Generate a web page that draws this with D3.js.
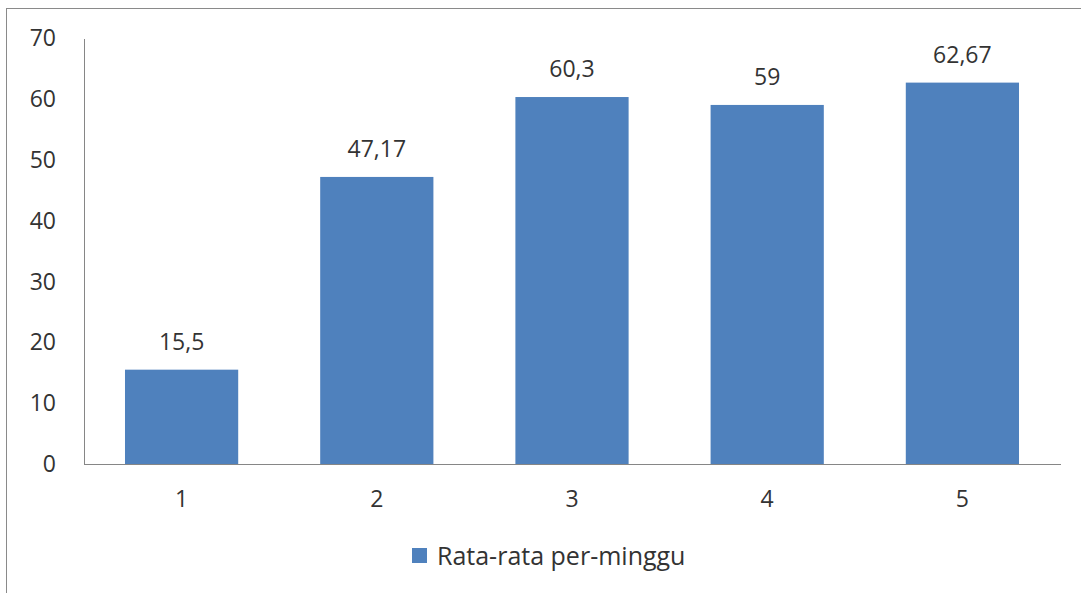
<!DOCTYPE html>
<html>
  <head>
    <style>
      body { margin: 0; background: #fff; }
      svg text { font-family: "Open Sans", sans-serif; fill: #333; }
      .axis path, .axis line { stroke: #868686; shape-rendering: crispEdges; }
    </style>
  </head>
  <body>
    <div id="chart"></div>
    <script src="https://d3js.org/d3.v7.min.js"></script>
    <script>
      const categories = ["1", "2", "3", "4", "5"];
      const values = [15.5, 47.17, 60.3, 59, 62.67];
      const valueLabels = ["15,5", "47,17", "60,3", "59", "62,67"];
      const yTicks = [0, 10, 20, 30, 40, 50, 60, 70];
      const seriesName = "Rata-rata per-minggu";

      const W = 1081, H = 593;
      const plotLeft = 84, plotRight = 1060, plotTop = 38, plotBottom = 464;

      const svg = d3.select("#chart").append("svg")
        .attr("width", W).attr("height", H);

      // outer frame
      svg.append("rect")
        .attr("x", 6.5).attr("y", 8.5)
        .attr("width", 1100).attr("height", 600)
        .attr("fill", "none").attr("stroke", "#8a8a8a");

      const x = d3.scaleBand().domain(categories).range([plotLeft, plotRight])
        .paddingInner(0.42).paddingOuter(0.21);
      const y = d3.scaleLinear().domain([0, 70]).range([plotBottom, plotTop]);

      // y axis
      const yAxis = svg.append("g").attr("class", "axis")
        .attr("transform", "translate(" + plotLeft + ",0)")
        .call(d3.axisLeft(y).tickValues(yTicks).tickSize(0).tickPadding(28));
      yAxis.selectAll("text").style("font-size", "23px").attr("dy", "0.33em");

      // x axis
      const xAxis = svg.append("g").attr("class", "axis")
        .attr("transform", "translate(0," + plotBottom + ")")
        .call(d3.axisBottom(x).tickSize(0).tickPadding(27).tickSizeOuter(0));
      xAxis.selectAll("text").style("font-size", "23px");

      // bars
      svg.selectAll(".bar").data(values).enter().append("rect")
        .attr("class", "bar")
        .attr("x", (d, i) => x(categories[i]))
        .attr("width", x.bandwidth())
        .attr("y", d => y(d))
        .attr("height", d => y(0) - y(d))
        .attr("fill", "#4f81bd");

      // value labels
      svg.selectAll(".lbl").data(values).enter().append("text")
        .attr("class", "lbl")
        .attr("x", (d, i) => x(categories[i]) + x.bandwidth() / 2)
        .attr("y", d => y(d) - 20)
        .attr("text-anchor", "middle")
        .style("font-size", "23px")
        .text((d, i) => valueLabels[i]);

      // legend
      const lg = svg.append("g").attr("transform", "translate(412,548)");
      lg.append("rect").attr("width", 15).attr("height", 15).attr("fill", "#4f81bd");
      lg.append("text").attr("x", 25).attr("y", 8).attr("dy", "0.35em")
        .style("font-size", "25px").text(seriesName);
    </script>
  </body>
</html>
